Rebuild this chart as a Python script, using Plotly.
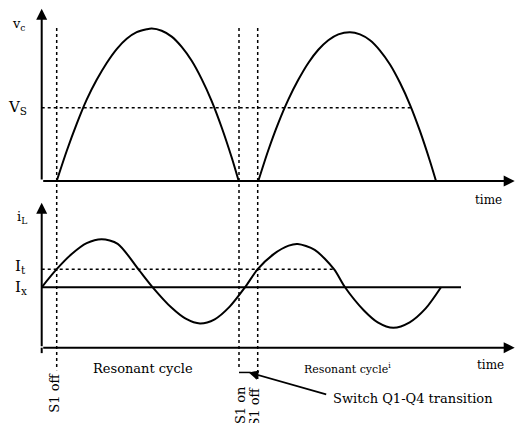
import plotly.graph_objects as go

# Capacitor voltage v_c (in units of Vs) over two resonant cycles
vc_t1 = [1.5, 2.5, 3.5, 4.5, 5.5, 6.5, 7.5, 8.5, 9.5, 10.5, 11.0,
         12.0, 13.0, 14.0, 15.0, 16.0, 17.0, 18.0, 19.0, 19.7]
vc_v1 = [0.0, 0.41, 0.78, 1.11, 1.38, 1.61, 1.80, 1.94, 2.03, 2.07, 2.08,
         2.05, 1.97, 1.83, 1.64, 1.39, 1.09, 0.73, 0.32, 0.0]
vc_t2 = [21.66, 22.66, 23.66, 24.66, 25.66, 26.66, 27.66, 28.66, 29.66, 30.83,
         31.83, 32.83, 33.83, 34.83, 35.83, 36.83, 37.83, 38.83, 39.43]
vc_v2 = [0.0, 0.42, 0.79, 1.11, 1.38, 1.61, 1.79, 1.92, 2.00, 2.03,
         2.00, 1.92, 1.78, 1.59, 1.34, 1.04, 0.68, 0.27, 0.0]

# Inductor current i_L (in units of Ix)
il_t = [0, 1.5, 3.0, 4.5, 6.0, 7.6, 9.66, 11.1, 13.0, 14.4, 15.83, 17.3, 18.8, 20.33,
        21.6, 23.2, 24.7, 25.6, 27.3, 29.23, 30.33, 32.2, 33.6, 35.16, 36.8, 38.4, 39.93]
il_v = [1.0, 1.30, 1.55, 1.73, 1.795, 1.72, 1.30, 1.0, 0.66, 0.48, 0.40, 0.47, 0.68, 1.0,
        1.30, 1.55, 1.69, 1.717, 1.62, 1.30, 1.0, 0.62, 0.42, 0.33, 0.42, 0.65, 1.0]

VS = 1.0
IX = 1.0
IT = 1.30

# Switching instants
t_s1_off = 1.5
t_s1_on = 19.73
t_s1_off2 = 21.6

# Extents of guide lines and axes
t_axis_end = 47.3
vs_line_end = 37.06
it_line_end = 29.2
ix_line_end = 41.93
vc_axis_top = 2.35
il_axis_top = 2.40

FONT = "DejaVu Serif"
BLACK = "black"

fig = go.Figure()

curve = dict(color=BLACK, width=2, shape="spline", smoothing=0.8)
fig.add_trace(go.Scatter(x=vc_t1, y=vc_v1, mode="lines", line=curve, yaxis="y", hoverinfo="skip"))
fig.add_trace(go.Scatter(x=vc_t2, y=vc_v2, mode="lines", line=curve, yaxis="y", hoverinfo="skip"))
fig.add_trace(go.Scatter(x=il_t, y=il_v, mode="lines", line=curve, yaxis="y2", hoverinfo="skip"))

shapes = []
# Vs reference (dotted) and Ix / It levels
shapes.append(dict(type="line", xref="x", yref="y", x0=0, x1=vs_line_end, y0=VS, y1=VS,
                   line=dict(color=BLACK, width=1.5, dash="dot")))
shapes.append(dict(type="line", xref="x", yref="y2", x0=0, x1=it_line_end, y0=IT, y1=IT,
                   line=dict(color=BLACK, width=1.5, dash="dot")))
shapes.append(dict(type="line", xref="x", yref="y2", x0=0, x1=ix_line_end, y0=IX, y1=IX,
                   line=dict(color=BLACK, width=2)))
# Switching instants (dotted verticals spanning both traces)
for tx, ybot in [(t_s1_off, -2.58), (t_s1_on, -2.55), (t_s1_off2, -2.72)]:
    shapes.append(dict(type="line", xref="x", yref="y", x0=tx, x1=tx, y0=2.087, y1=ybot,
                       line=dict(color=BLACK, width=1.5, dash="dot")))
# short tick at the S1 on marker
shapes.append(dict(type="line", xref="x", yref="y2", x0=t_s1_on, x1=20.9, y0=-0.41, y1=-0.41,
                   line=dict(color=BLACK, width=1.5)))
# lower y axis runs slightly below the time axis
shapes.append(dict(type="line", xref="x", yref="y2", x0=0, x1=0, y0=-0.09, y1=0,
                   line=dict(color=BLACK, width=2)))

annotations = []


def arrow(x, y, ax, ay, yref):
    annotations.append(dict(x=x, y=y, ax=ax, ay=ay, xref="x", yref=yref, axref="x", ayref=yref,
                            text="", showarrow=True, arrowhead=2, arrowsize=1.1, arrowwidth=2,
                            arrowcolor=BLACK, standoff=0, startstandoff=0))


# Axes with arrow heads
arrow(t_axis_end, 0, 0, 0, "y")
arrow(0, vc_axis_top, 0, 0, "y")
arrow(t_axis_end, 0, 0, 0, "y2")
arrow(0, il_axis_top, 0, 0, "y2")


def label(text, x, y, yref, size, angle=0, xanchor="center", yanchor="middle"):
    annotations.append(dict(text=text, x=x, y=y, xref="x", yref=yref, showarrow=False,
                            font=dict(family=FONT, size=size, color=BLACK), textangle=angle,
                            xanchor=xanchor, yanchor=yanchor))


label("v<sub>c</sub>", -2.3, 2.13, "y", 13)
label("V<sub>S</sub>", -2.4, VS, "y", 15)
label("i<sub>L</sub>", -2.0, 2.15, "y2", 13)
label("I<sub>t</sub>", -2.1, 1.34, "y2", 15)
label("I<sub>x</sub>", -2.1, 1.0, "y2", 15)
label("time", 44.63, -0.26, "y", 12)
label("time", 44.83, -0.29, "y2", 12)
label("Resonant cycle", 10.13, -0.35, "y2", 13)
label("Resonant cycle<sup>i</sup>", 30.6, -0.35, "y2", 11)
label("S1 off", t_s1_off - 0.2, -0.75, "y2", 13, angle=-90)
label("S1 on", t_s1_on + 0.1, -0.95, "y2", 13, angle=-90)
label("S1 off", t_s1_off2 - 0.3, -0.98, "y2", 13, angle=-90)
label("Switch Q1-Q4 transition", 37.1, -0.84, "y2", 13)

# Pointer from the transition note to the S1 on / off gap
annotations.append(dict(x=20.7, y=-0.41, ax=28.6, ay=-0.78, xref="x", yref="y2", axref="x", ayref="y2",
                        text="", showarrow=True, arrowhead=2, arrowsize=1.2, arrowwidth=1.6,
                        arrowcolor=BLACK, standoff=0))

fig.update_layout(
    width=517, height=423,
    margin=dict(l=0, r=0, t=0, b=0),
    paper_bgcolor="white", plot_bgcolor="white",
    showlegend=False,
    shapes=shapes,
    annotations=annotations,
    xaxis=dict(range=[-4.17, 47.53], visible=False, domain=[0, 1]),
    yaxis=dict(range=[-3.30, 2.469], visible=False, domain=[0, 1]),
    yaxis2=dict(range=[-1.247, 5.757], visible=False, overlaying="y", domain=[0, 1]),
)

fig.write_html("out.html")
